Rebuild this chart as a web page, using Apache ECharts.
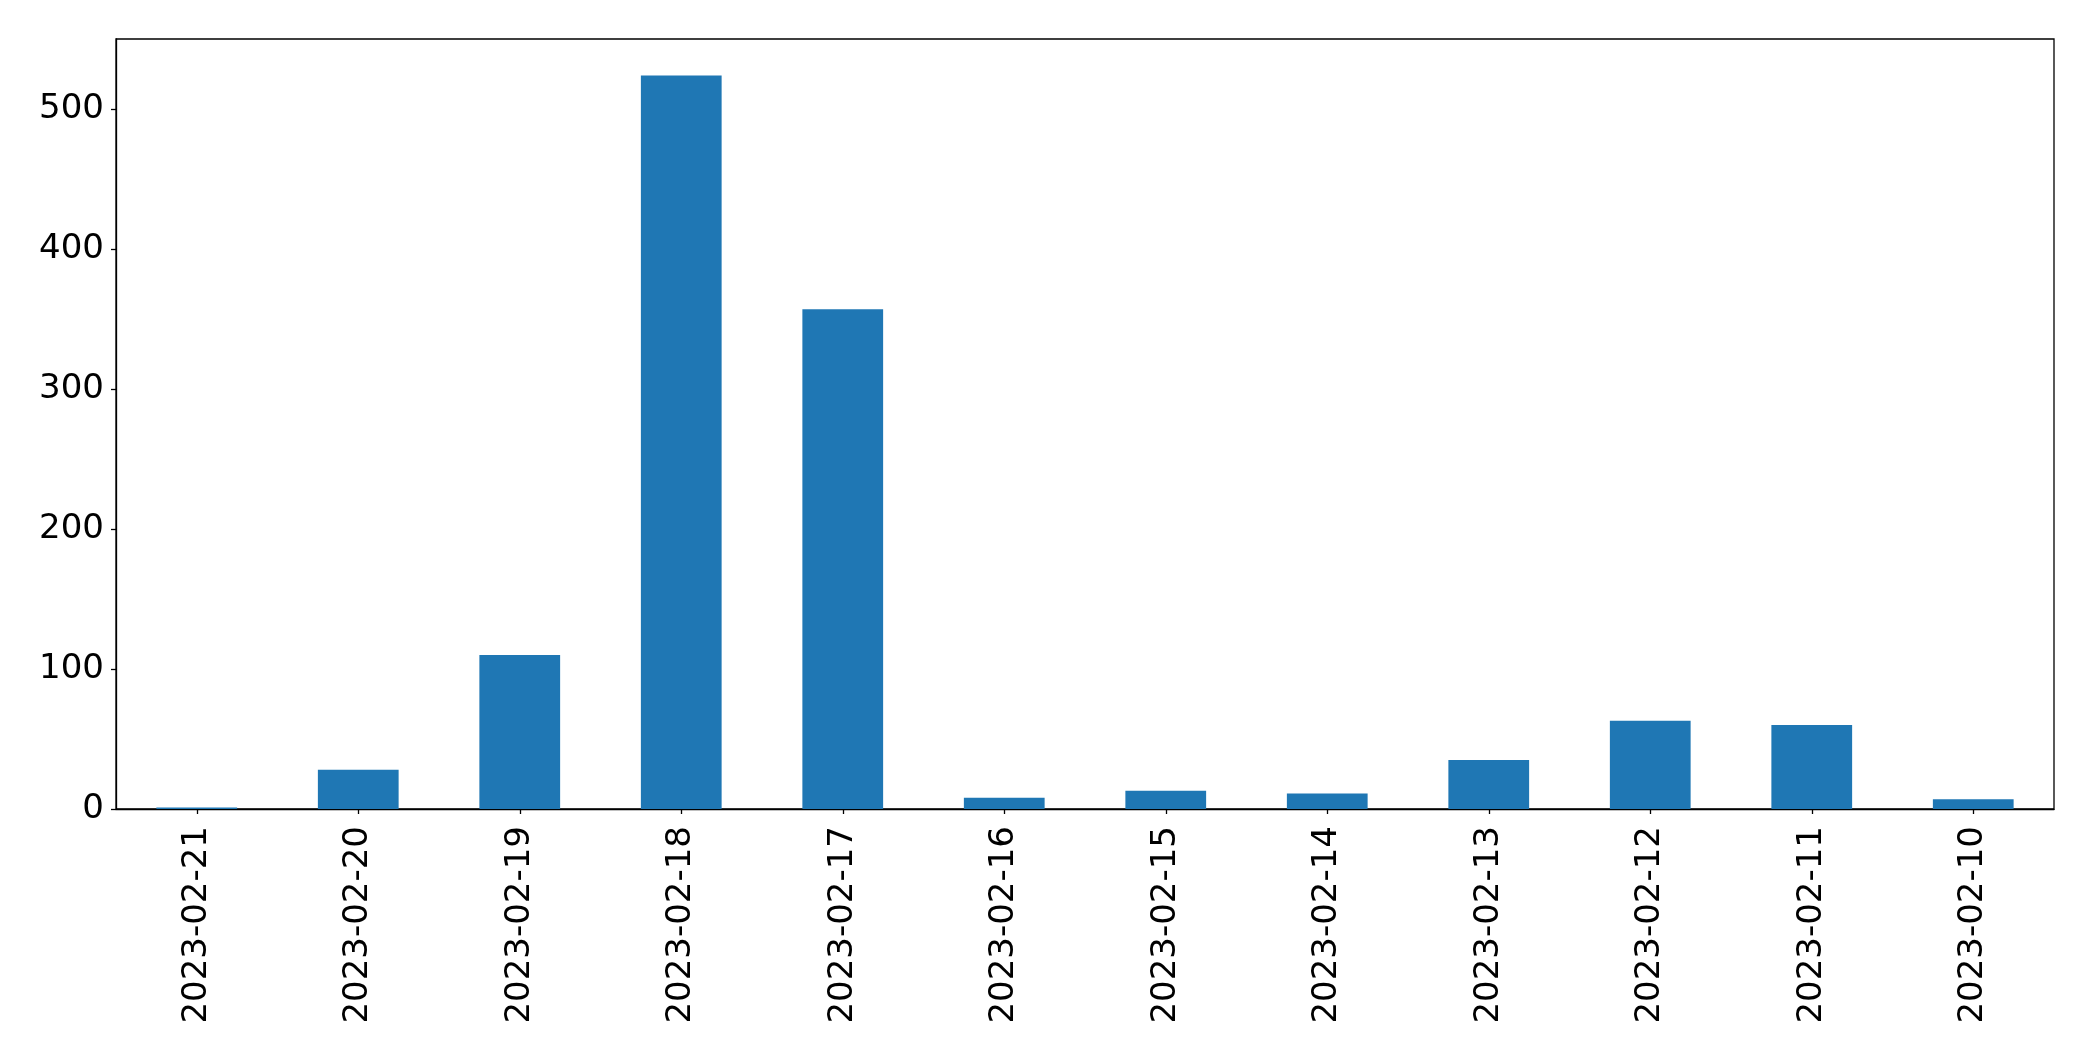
<!DOCTYPE html>
<html>
<head>
<meta charset="utf-8">
<script src="https://cdn.jsdelivr.net/npm/echarts@6/dist/echarts.min.js"></script>
<style>
html,body{margin:0;padding:0;background:#fff;}
#chart{width:2093px;height:1061px;}
</style>
</head>
<body>
<div id="chart"></div>
<script>
const categories = ["2023-02-21","2023-02-20","2023-02-19","2023-02-18","2023-02-17","2023-02-16","2023-02-15","2023-02-14","2023-02-13","2023-02-12","2023-02-11","2023-02-10"];
const counts = [1, 28, 110, 524, 357, 8, 13, 11, 35, 63, 60, 7];
const yTicks = [0, 100, 200, 300, 400, 500];

const chart = echarts.init(document.getElementById('chart'), null, {renderer: 'canvas'});
const font = 'DejaVu Sans';
chart.setOption({
  animation: false,
  backgroundColor: '#ffffff',
  grid: {
    left: 116, right: 39, top: 39, bottom: 252,
    show: true, borderColor: '#000000', borderWidth: 1.3, backgroundColor: 'transparent'
  },
  xAxis: {
    type: 'category',
    data: categories,
    boundaryGap: true,
    axisLine: {show: true, lineStyle: {color: '#000', width: 1.3}},
    axisTick: {show: true, alignWithLabel: true, length: 5, lineStyle: {color: '#000', width: 1.3}},
    axisLabel: {rotate: 90, margin: 17, color: '#000', fontFamily: font, fontSize: 34, interval: 0}
  },
  yAxis: {
    type: 'value',
    min: 0, max: 550,
    splitLine: {show: false},
    axisLine: {show: true, lineStyle: {color: '#000', width: 1.3}},
    axisTick: {show: true, length: 5, customValues: yTicks, lineStyle: {color: '#000', width: 1.3}},
    axisLabel: {customValues: yTicks, margin: 12, color: '#000', fontFamily: font, fontSize: 34}
  },
  series: [{
    type: 'bar',
    data: counts,
    barWidth: '50%',
    itemStyle: {color: '#1f77b4'}
  }]
});
</script>
</body>
</html>
